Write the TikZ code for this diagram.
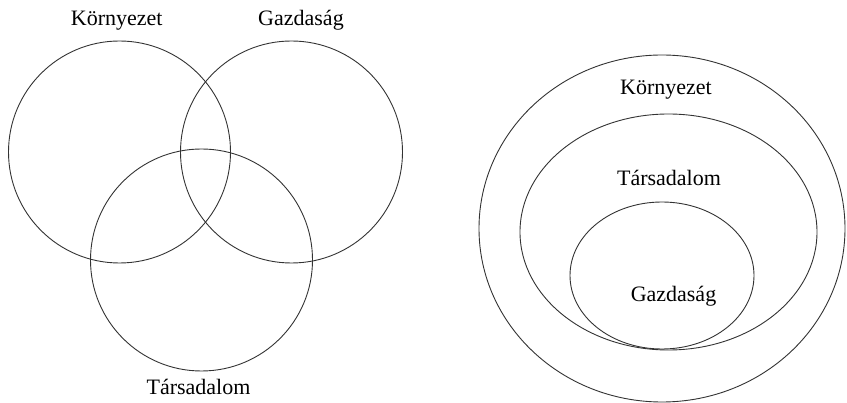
\documentclass[tikz,border=0pt]{standalone}
\usepackage{fontspec}
\setmainfont{Liberation Serif}
\usetikzlibrary{shapes.geometric}
\begin{document}
\begin{tikzpicture}[x=1pt,y=-1pt,
  ring/.style={draw=black!80,line width=0.9pt,circle,inner sep=0pt,outer sep=0pt},
  oval/.style={draw=black!80,line width=0.9pt,ellipse,inner sep=0pt,outer sep=0pt},
  lbl/.style={font=\fontsize{22}{26}\selectfont,anchor=base,inner sep=0pt}]
\useasboundingbox (0,0) rectangle (847,403);
% left Venn diagram
\node[ring,minimum size=222pt] (kor) at (119.5,152) {};
\node[ring,minimum size=222pt] (gaz) at (291.5,152) {};
\node[ring,minimum size=222pt] (tar) at (201.5,260) {};
\node[lbl] (korL) at (116.7,26) {Környezet};
\node[lbl] (gazL) at (301,26) {Gazdaság};
\node[lbl] (tarL) at (198.5,395) {Társadalom};
% right nested diagram
\node[oval,minimum width=366pt,minimum height=347pt] (kor2) at (662,228.5) {};
\node[oval,minimum width=297pt,minimum height=236pt] (tar2) at (668.5,232) {};
\node[oval,minimum width=184pt,minimum height=147pt] (gaz2) at (662,275.5) {};
\node[lbl] (kor2L) at (666,95) {Környezet};
\node[lbl] (tar2L) at (669,185.7) {Társadalom};
\node[lbl] (gaz2L) at (673.5,301.7) {Gazdaság};
\end{tikzpicture}
\end{document}
